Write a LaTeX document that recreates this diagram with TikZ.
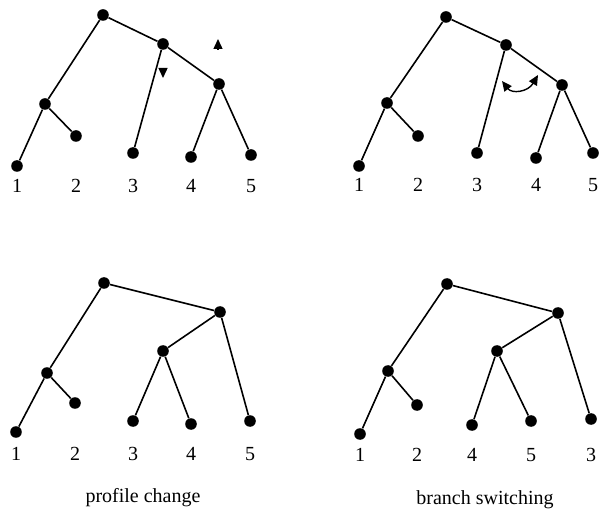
\documentclass[tikz,border=0pt]{standalone}
\usepackage{fontspec}
\setmainfont{Liberation Serif}
\usetikzlibrary{arrows.meta}
\tikzset{
  dot/.style={circle, fill=black, inner sep=0pt, minimum size=5.8pt},
  edge/.style={line width=0.8pt},
  lbl/.style={font=\fontsize{10}{12}\selectfont, inner sep=0pt},
  move/.style={line width=0.7pt, -{Triangle[length=5pt, width=4.5pt]}},
}
\begin{document}
\begin{tikzpicture}[x=0.5pt, y=-0.5pt]
  \useasboundingbox (0,0) rectangle (600,518);
  % Top left: starting tree
  \foreach \n/\x/\y in {r/103/15, a/163/44, b/219/84, c/45/104,
                        l1/17/166, l2/76/136, l3/133/153, l4/191/157, l5/251/155}
    \node[dot] (A\n) at (\x,\y) {};
  \draw[edge] (Al1) -- (Ac) -- (Ar) -- (Aa) -- (Ab) -- (Al5);
  \draw[edge] (Ac) -- (Al2);
  \draw[edge] (Aa) -- (Al3);
  \draw[edge] (Ab) -- (Al4);
  \foreach \i/\x in {1/17, 2/76, 3/133, 4/191, 5/251}
    \node[lbl] (At\i) at (\x,186) {\i};
  % Up / down marks
  \coordinate (upS) at (218,49);
  \coordinate (upE) at (218,39);
  \coordinate (dnS) at (163,68);
  \coordinate (dnE) at (163,78);
  \draw[move] (upS) -- (upE);
  \draw[move] (dnS) -- (dnE);

  % Top right: same tree, swap mark
  \foreach \n/\x/\y in {r/446/17, a/506/45, b/562/85, c/387/103,
                        l1/359/166, l2/418/136, l3/477/153, l4/536/158, l5/593/153}
    \node[dot] (B\n) at (\x,\y) {};
  \draw[edge] (Bl1) -- (Bc) -- (Br) -- (Ba) -- (Bb) -- (Bl5);
  \draw[edge] (Bc) -- (Bl2);
  \draw[edge] (Ba) -- (Bl3);
  \draw[edge] (Bb) -- (Bl4);
  \foreach \i/\x in {1/359, 2/418, 3/477, 4/536, 5/593}
    \node[lbl] (Bt\i) at (\x,185) {\i};
  \coordinate (swL) at (502,81);
  \coordinate (swR) at (538,75);
  \draw[move, {Triangle[length=5pt, width=4.5pt]}-{Triangle[length=5pt, width=4.5pt]}]
    (swL) .. controls (512,94) and (528,92) .. (swR);

  % Bottom left: profile change
  \foreach \n/\x/\y in {r/104/283, a/220/312, b/163/351, c/47/373,
                        l1/16/432, l2/75/403, l3/133/421, l4/191/424, l5/250/421}
    \node[dot] (C\n) at (\x,\y) {};
  \draw[edge] (Cl1) -- (Cc) -- (Cr) -- (Ca) -- (Cl5);
  \draw[edge] (Cc) -- (Cl2);
  \draw[edge] (Ca) -- (Cb) -- (Cl3);
  \draw[edge] (Cb) -- (Cl4);
  \foreach \i/\x in {1/16, 2/75, 3/133, 4/191, 5/250}
    \node[lbl] (Ct\i) at (\x,454) {\i};
  \node[lbl] (capC) at (143,498) {profile change};

  % Bottom right: branch switching
  \foreach \n/\x/\y in {r/447/284, a/558/313, b/497/351, c/388/371,
                        l1/360/434, l2/417/405, l4/472/425, l5/531/421, l3/591/419}
    \node[dot] (D\n) at (\x,\y) {};
  \draw[edge] (Dl1) -- (Dc) -- (Dr) -- (Da) -- (Dl3);
  \draw[edge] (Dc) -- (Dl2);
  \draw[edge] (Da) -- (Db) -- (Dl4);
  \draw[edge] (Db) -- (Dl5);
  \foreach \i/\x in {1/360, 2/417, 4/472, 5/531, 3/591}
    \node[lbl] (Dt\i) at (\x,455) {\i};
  \node[lbl] (capD) at (485,500) {branch switching};
\end{tikzpicture}
\end{document}
